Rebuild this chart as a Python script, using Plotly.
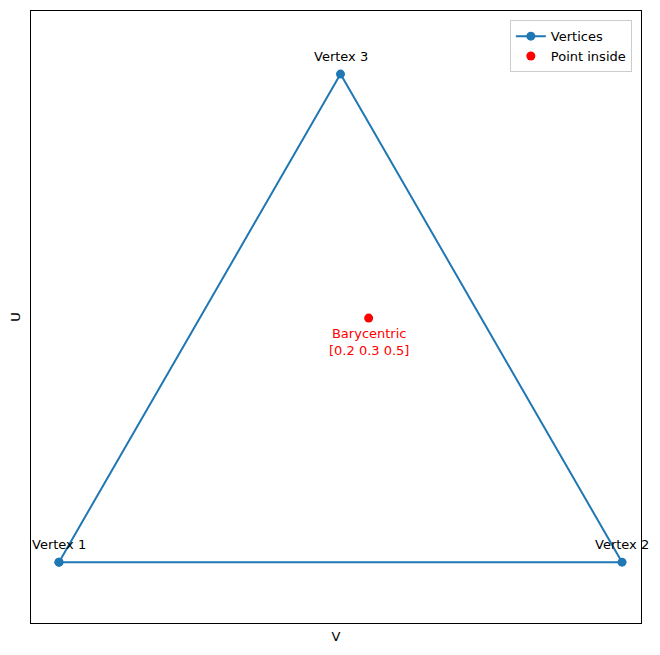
import numpy as np
import plotly.graph_objects as go

vertex_x = [0.0, 1.0, 0.5]
vertex_y = [0.0, 0.0, np.sqrt(3) / 2]
vertex_labels = ["Vertex 1", "Vertex 2", "Vertex 3"]
bary = [0.2, 0.3, 0.5]

px_ = sum(w * x for w, x in zip(bary, vertex_x))
py_ = sum(w * y for w, y in zip(bary, vertex_y))

blue = "#1f77b4"
fig = go.Figure()
fig.add_trace(go.Scatter(
    x=vertex_x + vertex_x[:1], y=vertex_y + vertex_y[:1],
    mode="lines+markers", name="Vertices",
    line=dict(color=blue, width=2), marker=dict(color=blue, size=9),
))
fig.add_trace(go.Scatter(
    x=[px_], y=[py_], mode="markers", name="Point inside",
    marker=dict(color="red", size=9),
))

for x, y, t in zip(vertex_x, vertex_y, vertex_labels):
    fig.add_annotation(x=x, y=y, text=t, showarrow=False, yshift=18,
                       font=dict(size=13, color="black"))
fig.add_annotation(x=px_, y=py_, text="Barycentric<br>[0.2 0.3 0.5]",
                   showarrow=False, yshift=-24, font=dict(size=13, color="red"))

axis = dict(showgrid=False, zeroline=False, showticklabels=False, ticks="",
            showline=True, linecolor="black", mirror=True)
fig.update_layout(
    width=660, height=655, plot_bgcolor="white", paper_bgcolor="white",
    margin=dict(l=23, r=27, t=3, b=40),
    font=dict(family="DejaVu Sans", size=13, color="black"),
    xaxis=dict(axis, range=[-0.0497, 1.0337],
               title=dict(text="V", standoff=8, font=dict(size=13))),
    yaxis=dict(axis, range=[-0.108, 0.978],
               title=dict(text="U", standoff=8, font=dict(size=13))),
    legend=dict(x=0.985, y=0.985, xanchor="right", yanchor="top",
                bordercolor="#cccccc", borderwidth=1, bgcolor="white",
                font=dict(size=13)),
)
fig.write_html("out.html")
